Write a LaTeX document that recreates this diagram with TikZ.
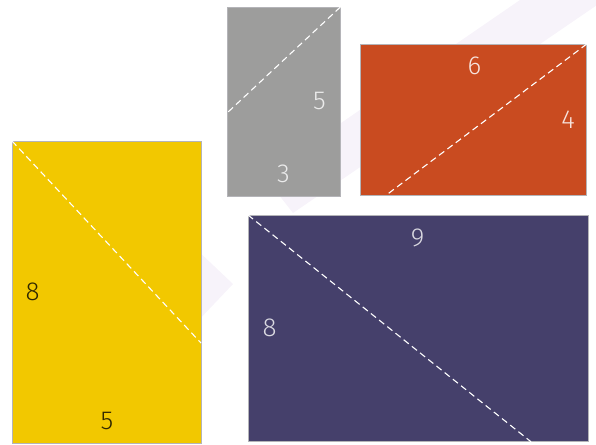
\documentclass[tikz,border=0pt]{standalone}
\usepackage{fontspec}
\usepackage{tikz}
\usepackage{xcolor}
\usetikzlibrary{calc}
\usetikzlibrary{math}
\newfontfamily\digitfont{Fira Sans}[UprightFont=* Light]
\definecolor{rectgray}{HTML}{9D9D9C}
\definecolor{rectorange}{HTML}{C94B20}
\definecolor{rectyellow}{HTML}{F2C800}
\definecolor{rectpurple}{HTML}{45406B}
\definecolor{edgegray}{HTML}{B4B4B8}
\definecolor{wmark}{HTML}{F7F3FA}

\begin{document}
\begin{tikzpicture}[x=1pt,y=-1pt,
    piece/.style={draw=edgegray,line width=0.8pt,inner sep=0pt,outer sep=0pt,anchor=north west},
    cut/.style={white,line width=1.1pt,dash pattern=on 6.5pt off 4pt},
    num/.style={inner sep=0pt,font=\digitfont\fontsize{26}{26}\selectfont}]
    \tikzmath{\sq = 37.8;}  %% 一个小方格的边长
    \useasboundingbox (0,0) rectangle (596,444);
    %% 背景水印
    \fill[wmark] (520,0) -- (600,0) -- (600,3) -- (293,213) -- (275,190) -- (341,123) -- cycle;
    \fill[wmark] (195,248) -- (233,284) -- (195,324) -- cycle;
    %% 四块长方形
    \node[piece,fill=rectgray,minimum width=3*\sq pt,minimum height=5*\sq pt] (gray) at (227,7) {};
    \node[piece,fill=rectorange,minimum width=6*\sq pt,minimum height=4*\sq pt] (orange) at (360,44) {};
    \node[piece,fill=rectyellow,minimum width=5*\sq pt,minimum height=8*\sq pt] (yellow) at (12,141) {};
    \node[piece,fill=rectpurple,minimum width=9*\sq pt,minimum height=6*\sq pt] (purple) at (248,215) {};
    %% 虚线
    \draw[cut] (gray.north east) -- ($(gray.north west)!0.561!(gray.south west)$);
    \draw[cut] (orange.north east) -- ($(orange.south west)!0.115!(orange.south east)$);
    \draw[cut] (yellow.north west) -- ($(yellow.north east)!0.668!(yellow.south east)$);
    \draw[cut] (purple.north west) -- ($(purple.south west)!0.832!(purple.south east)$);
    %% 边长
    \node[num,text=white!92!black] (gray-side) at (319.5,101) {5};
    \node[num,text=white!92!black] (gray-base) at (283.5,174) {3};
    \node[num,text=white!85!rectorange] (orange-top) at (474.5,66) {6};
    \node[num,text=white!85!rectorange] (orange-side) at (568,119.5) {4};
    \node[num,text=black!80!rectyellow] (yellow-side) at (32.5,291.5) {8};
    \node[num,text=black!80!rectyellow] (yellow-base) at (107,420.5) {5};
    \node[num,text=white!80!rectpurple] (purple-top) at (417.5,238) {9};
    \node[num,text=white!80!rectpurple] (purple-side) at (269.5,328) {8};
\end{tikzpicture}
\end{document}
